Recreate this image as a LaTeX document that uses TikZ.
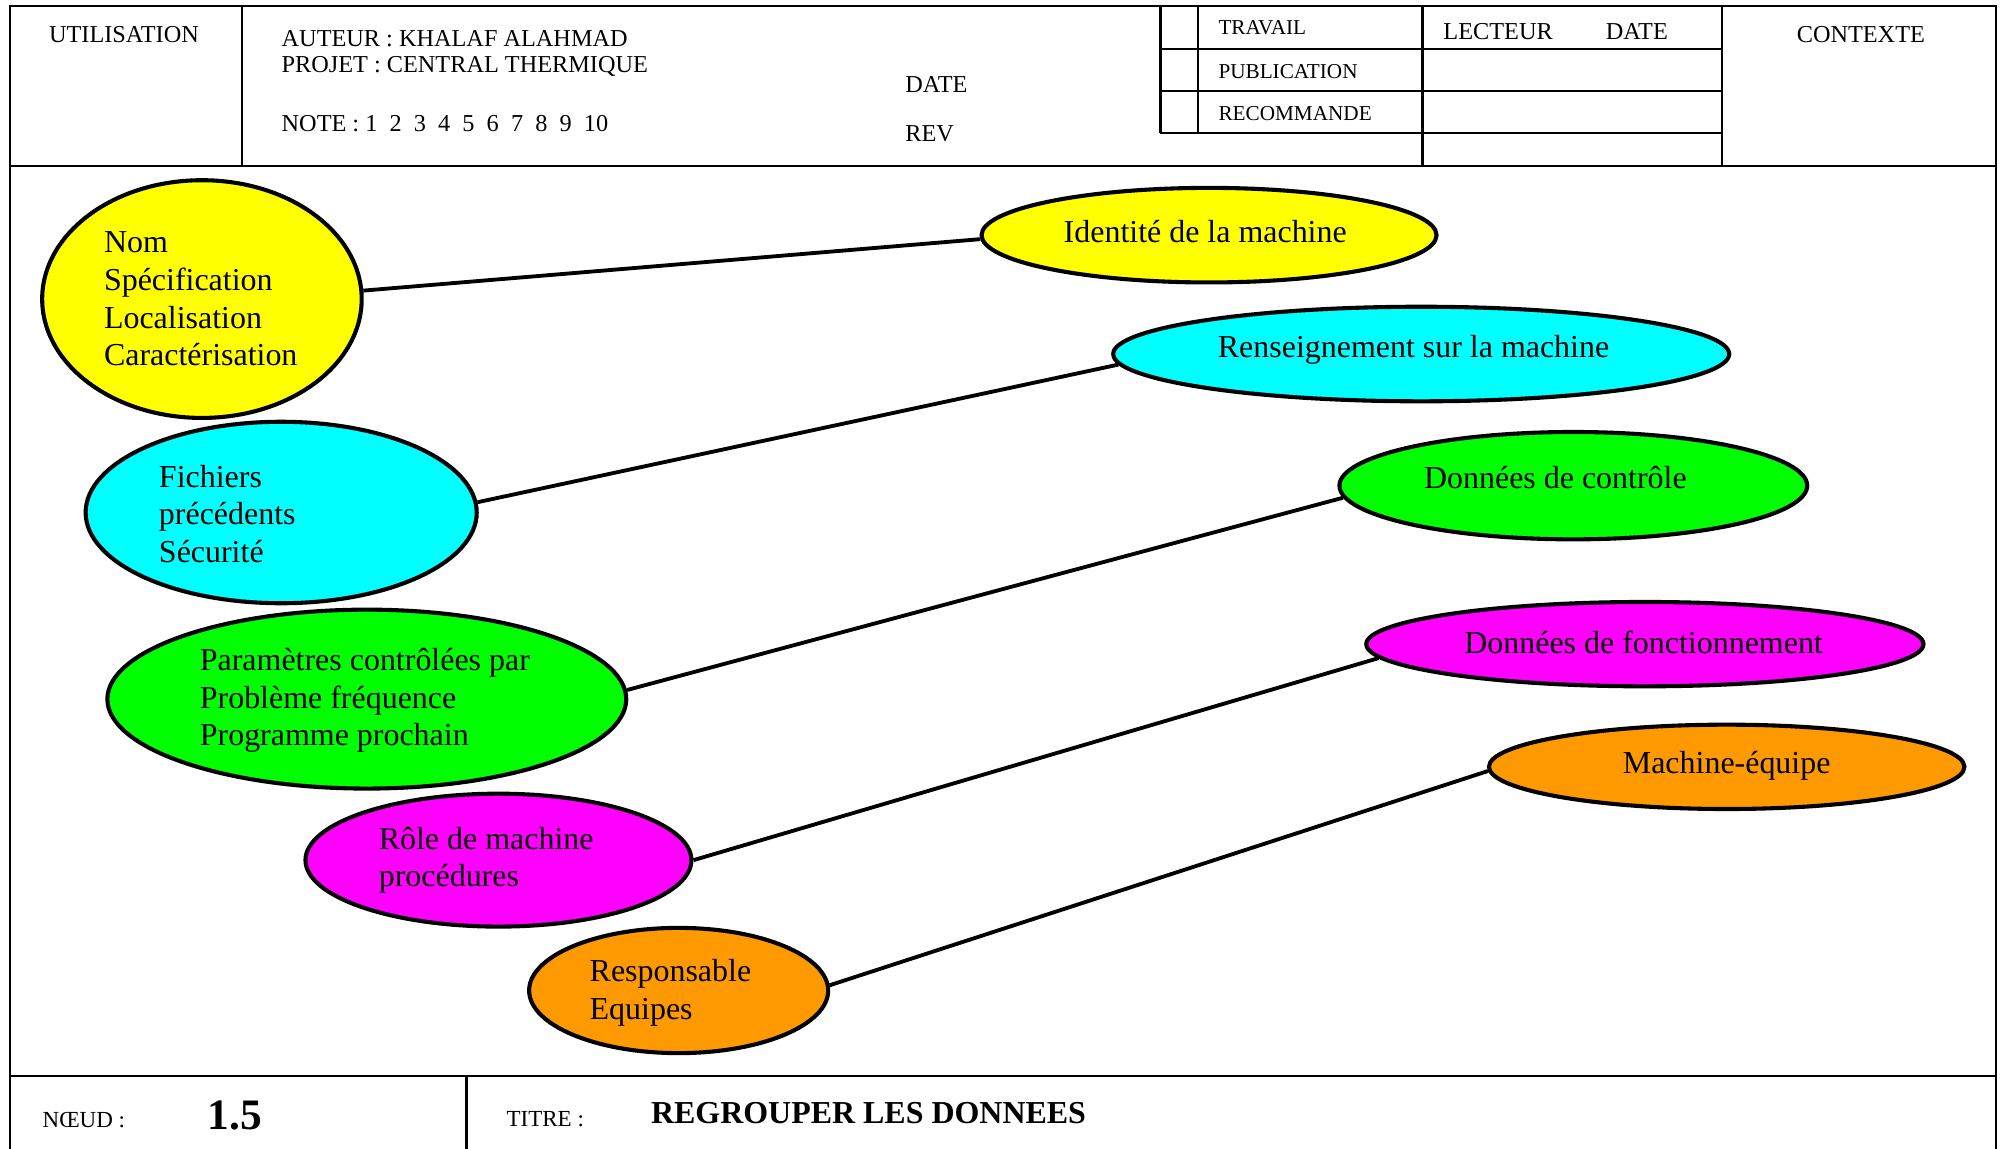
\documentclass[tikz,border=0pt]{standalone}
\usepackage{fontspec}
\setmainfont{Liberation Serif}
\usetikzlibrary{shapes.geometric}
\definecolor{yellowx}{HTML}{FFFF00}
\definecolor{cyanx}{HTML}{00FFFF}
\definecolor{greenx}{HTML}{00FF00}
\definecolor{magentax}{HTML}{FF00FF}
\definecolor{orangex}{HTML}{FF9900}
\begin{document}
\begin{tikzpicture}[x=0.5pt,y=-0.5pt,
  frame/.style={line width=0.8pt},
  bub/.style={ellipse, draw, line width=1.6pt, inner sep=0pt},
  link/.style={line width=1.5pt},
  hdr/.style={anchor=west, inner sep=0pt, font=\fontsize{9.5}{11}\selectfont},
  tab/.style={anchor=west, inner sep=0pt, font=\fontsize{8.3}{10}\selectfont},
  btxt/.style={anchor=west, inner sep=0pt, align=left, font=\fontsize{12.5}{14.75}\selectfont},
  ctxt/.style={anchor=center, inner sep=0pt, font=\fontsize{12.5}{14.75}\selectfont},
]
\useasboundingbox (0,0) rectangle (1568,899);
% frame
\draw[frame] (8,920) -- (8,5) -- (1562,5) -- (1562,920);
\draw[frame] (8,130) -- (1562,130);
\draw[frame] (8,842) -- (1562,842);
\draw[frame] (189,5) -- (189,130);
\draw[frame] (908,5) -- (908,104);
\draw[frame] (937,5) -- (937,104);
\draw[frame] (1113,5) -- (1113,130);
\draw[frame] (1347,5) -- (1347,130);
\draw[frame] (908,38) -- (1347,38);
\draw[frame] (908,71) -- (1347,71);
\draw[frame] (908,104) -- (1347,104);
\draw[frame] (365,842) -- (365,920);
% header texts
\node[hdr, anchor=center] (util) at (97,27) {UTILISATION};
\node[hdr] (aut) at (220,30) {AUTEUR : KHALAF ALAHMAD};
\node[hdr] (proj) at (220,52) {PROJET : CENTRAL THERMIQUE};
\node[hdr] (note) at (220,97) {NOTE : 1\ \ 2\ \ 3\ \ 4\ \ 5\ \ 6\ \ 7\ \ 8\ \ 9\ \ 10};
\node[hdr] (date) at (708,66) {DATE};
\node[hdr] (rev) at (708,105) {REV};
\node[tab] (trav) at (953,22) {TRAVAIL};
\node[tab] (pub) at (953,56) {PUBLICATION};
\node[tab] (rec) at (953,89) {RECOMMANDE};
\node[hdr] (lect) at (1129,25) {LECTEUR};
\node[hdr] (date2) at (1256,25) {DATE};
\node[hdr, anchor=center] (ctx) at (1456,27) {CONTEXTE};
% footer texts
\node[anchor=west, inner sep=0pt, font=\fontsize{9}{11}\selectfont] (noeud) at (33,876) {NŒUD :};
\node[anchor=west, inner sep=0pt, font=\fontsize{17}{20}\selectfont\bfseries] (num) at (162,873) {1.5};
\node[anchor=west, inner sep=0pt, font=\fontsize{9}{11}\selectfont] (titre) at (396,876) {TITRE :};
\node[anchor=west, inner sep=0pt, font=\fontsize{12.5}{15}\selectfont\bfseries] (ttl) at (509,871) {REGROUPER LES DONNEES};
% left ellipses
\node[bub, fill=yellowx, minimum width=125pt, minimum height=93pt] (yl) at (158,234) {};
\node[bub, fill=cyanx, minimum width=153pt, minimum height=71pt] (cl) at (220,401) {};
\node[bub, fill=greenx, minimum width=203pt, minimum height=70pt] (gl) at (287,547) {};
\node[bub, fill=magentax, minimum width=151pt, minimum height=52pt] (ml) at (390,673) {};
\node[bub, fill=orangex, minimum width=117pt, minimum height=49pt] (ol) at (531,775) {};
% right ellipses
\node[bub, fill=yellowx, minimum width=178pt, minimum height=37pt] (yr) at (946,184) {};
\node[bub, fill=cyanx, minimum width=241pt, minimum height=37pt] (cr) at (1112,277) {};
\node[bub, fill=greenx, minimum width=183pt, minimum height=42pt] (gr) at (1231,380) {};
\node[bub, fill=magentax, minimum width=218pt, minimum height=33pt] (mr) at (1287,504) {};
\node[bub, fill=orangex, minimum width=186pt, minimum height=33pt] (or) at (1351,600) {};
% texts in ellipses
\node[btxt] (tyl) at (81,234) {Nom\\Spécification\\Localisation\\Caractérisation};
\node[btxt] (tcl) at (124,402) {Fichiers\\précédents\\Sécurité};
\node[btxt] (tgl) at (156,548) {Paramètres contrôlées par\\Problème fréquence\\Programme prochain};
\node[btxt] (tml) at (296,673) {Rôle de machine\\procédures};
\node[btxt] (tol) at (461,777) {Responsable\\Equipes};
\node[ctxt] (tyr) at (943,181) {Identité de la machine};
\node[ctxt] (tcr) at (1106,274) {Renseignement sur la machine};
\node[ctxt] (tgr) at (1217,374) {Données de contrôle};
\node[ctxt] (tmr) at (1286,503) {Données de fonctionnement};
\node[ctxt] (tor) at (1351,599) {Machine-équipe};
% connectors
\draw[link] (yl.3) -- (yr.181);
\draw[link] (cl.3) -- (cr.182);
\draw[link] (gl.2) -- (gr.183);
\draw[link] (ml.0) -- (mr.183);
\draw[link] (ol.2) -- (or.181);
\end{tikzpicture}
\end{document}
